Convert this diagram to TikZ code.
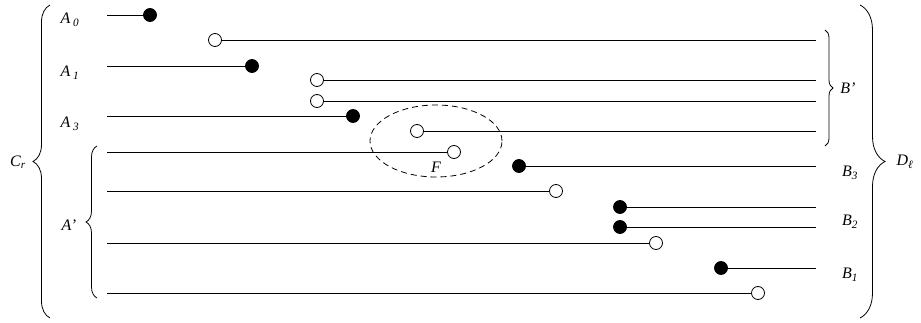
\documentclass[tikz,border=0pt]{standalone}
\usepackage{fontspec}
\setmainfont{Liberation Serif}
\usetikzlibrary{decorations.pathreplacing,shapes.geometric}
\begin{document}
\begin{tikzpicture}[x=1pt,y=-1pt,
  seg/.style={line width=0.8pt},
  solid dot/.style={circle,fill=black,draw=black,line width=0.8pt,minimum size=13pt,inner sep=0pt},
  hollow dot/.style={circle,fill=white,draw=black,line width=0.8pt,minimum size=13pt,inner sep=0pt},
  lbl/.style={font=\fontsize{16}{18}\selectfont\itshape,inner sep=0pt},
  bracket/.style={decorate,line width=0.8pt},
]
\useasboundingbox (0,0) rectangle (921,323);

% left end points of the segments
\foreach \n/\y in {l0/15,l1/66,l2/116,l3/152,l4/191,l5/243,l6/293}
  \coordinate (\n) at (107,\y);
% right end points of the segments
\foreach \n/\y in {r0/40,r1/80,r2/101,r3/131,r4/166,r5/207,r6/227,r7/268}
  \coordinate (\n) at (816,\y);

% closed ends
\node[solid dot] (f0) at (150,15) {};
\node[solid dot] (f1) at (252,66) {};
\node[solid dot] (f2) at (353,116) {};
\node[solid dot] (f3) at (519,166) {};
\node[solid dot] (f4) at (620,207) {};
\node[solid dot] (f5) at (620,227) {};
\node[solid dot] (f6) at (721,268) {};

% open ends
\node[hollow dot] (o0) at (215,40) {};
\node[hollow dot] (o1) at (317,80) {};
\node[hollow dot] (o2) at (317,101) {};
\node[hollow dot] (o3) at (417,131) {};
\node[hollow dot] (o4) at (454,152) {};
\node[hollow dot] (o5) at (556,191) {};
\node[hollow dot] (o6) at (656,243) {};
\node[hollow dot] (o7) at (758,293) {};

% segments
\draw[seg] (l0) -- (f0);
\draw[seg] (o0) -- (r0);
\draw[seg] (l1) -- (f1);
\draw[seg] (o1) -- (r1);
\draw[seg] (o2) -- (r2);
\draw[seg] (l2) -- (f2);
\draw[seg] (o3) -- (r3);
\draw[seg] (l3) -- (o4);
\draw[seg] (f3) -- (r4);
\draw[seg] (l4) -- (o5);
\draw[seg] (f4) -- (r5);
\draw[seg] (f5) -- (r6);
\draw[seg] (l5) -- (o6);
\draw[seg] (f6) -- (r7);
\draw[seg] (l6) -- (o7);

% dashed region F
\node[draw,dash pattern=on 6pt off 4pt,line width=0.8pt,ellipse,minimum width=132pt,minimum height=72pt,inner sep=0pt] (Freg) at (436,141) {};
\node[lbl] (Flbl) at (436,167) {F};

% braces
\draw[bracket,decoration={brace,amplitude=17pt}] (50,318) -- (50,5);
\draw[bracket,decoration={brace,amplitude=11pt}] (97,298) -- (97,146);
\draw[bracket,decoration={brace,amplitude=8pt}] (825,30) -- (825,146);
\draw[bracket,decoration={brace,amplitude=25pt}] (860,5) -- (860,318);

% labels
\node[lbl] (Cr) at (18,162) {C\textsubscript{r}};
\node[lbl] (A0) at (70,20) {A\,\textsubscript{0}};
\node[lbl] (A1) at (70,73) {A\,\textsubscript{1}};
\node[lbl] (A3) at (70,124) {A\,\textsubscript{3}};
\node[lbl] (Ap) at (69,225) {A'};
\node[lbl] (Bp) at (848,88) {B'};
\node[lbl] (B3) at (850,173) {B\textsubscript{3}};
\node[lbl] (B2) at (850,222) {B\textsubscript{2}};
\node[lbl] (B1) at (850,275) {B\textsubscript{1}};
\node[lbl] (Dl) at (905,162) {D\textsubscript{ℓ}};
\end{tikzpicture}
\end{document}
